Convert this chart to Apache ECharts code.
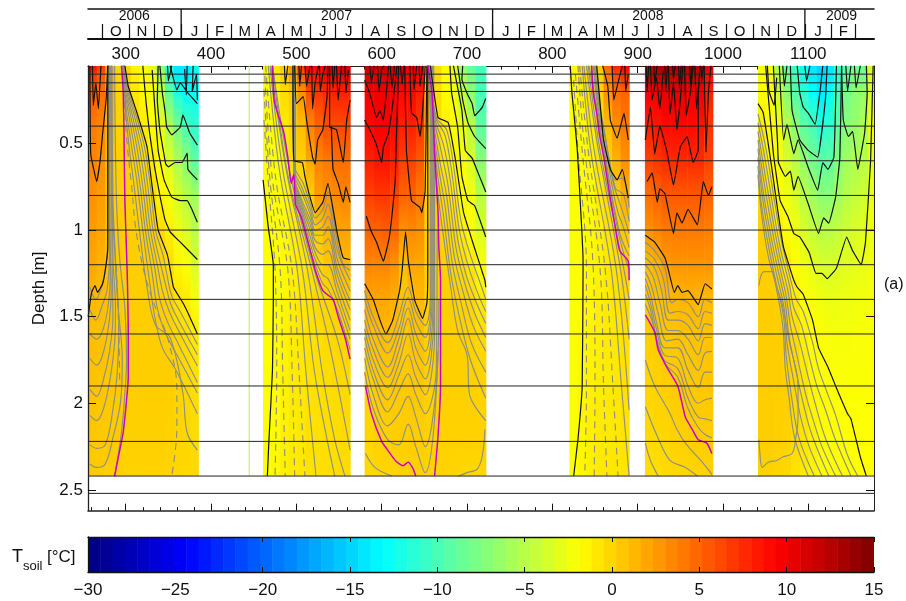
<!DOCTYPE html>
<html><head><meta charset="utf-8">
<script src="https://cdn.jsdelivr.net/npm/echarts@6/dist/echarts.min.js"></script>
<style>html,body{margin:0;padding:0;background:#fff}#c{width:906px;height:601px}</style></head>
<body><div id="c"></div>
<script>
var dayMin=255.8, dayMax=1177, depthMin=0.053, depthMax=2.62;
var dayTicks=[300,400,500,600,700,800,900,1000,1100];
var dayMinor=[260,280,320,340,360,380,420,440,460,480,520,540,560,580,620,640,660,680,720,740,760,780,820,840,860,880,920,940,960,980,1020,1040,1060,1080,1120,1140,1160];
var depthTicks=[0.5,1,1.5,2,2.5];
var sensorDepths=[0.1,0.15,0.2,0.4,0.6,0.8,1,1.2,1.4,1.6,1.9,2.22,2.42,2.52];
var monthBounds=[273,304,334,365,396,424,455,485,516,546,577,608,638,669,699,730,761,790,821,851,882,912,943,974,1004,1035,1065,1096,1127,1155];
var monthLetters=['O','N','D','J','F','M','A','M','J','J','A','S','O','N','D','J','F','M','A','M','J','J','A','S','O','N','D','J','F'];
var yearBounds=[365,730,1096];
var yearLabels=[['2006',310],['2007',547],['2008',912],['2009',1139]];
var colorbarTicks=[-30,-25,-20,-15,-10,-5,0,5,10,15];
var gapLine=[[444.7,0.053],[444.7,2.42]];

var depthLevels=[0.053,0.1,0.2,0.4,0.6,0.8,1.0,1.2,1.4,1.6,1.9,2.2,2.42];

var seg1Edges=[256,266,276,286,296,306,316,326,336,346,356,366,376,385];
var seg1Field=[
[9,7,5.5,4,3.5,3,2.5,2,1.2,1,.8,.6,.4],
[7,5.5,4.5,3.5,3,2.5,2,1.5,1.1,.9,.7,.5,.4],
[2,2,1.8,1.5,1.2,1,1,1,.8,.7,.6,.5,.3],
[0,0,.1,.1,.2,.3,.4,.5,.5,.5,.5,.4,.3],
[0,0,.1,.2,.2,.2,.3,.3,.3,.3,.3,.2,.1],
[-1.5,-1.2,-.8,-.3,0,.2,.3,.3,.3,.3,.3,.2,.1],
[-2,-1.9,-1.7,-1,-.3,0,.2,.3,.3,.3,.3,.2,.1],
[-3,-2.5,-2.3,-1.9,-1,-.3,.1,.3,.3,.3,.3,.2,.1],
[-7,-6,-5,-3,-2,-1.5,-.3,.1,.3,.3,.3,.2,.1],
[-12,-11,-9,-5.5,-3.5,-2.2,-1.2,-.3,.1,.3,.3,.1,0],
[-14,-14,-12,-8,-5.5,-3.8,-2.5,-1.5,-.6,-.1,.1,0,-.1],
[-14,-14,-13,-10,-7,-5,-3.5,-2,-1,-.4,-.1,-.1,-.2],
[-13,-13,-13,-11,-9,-6,-5,-3.5,-2.2,-1,-.4,-.3,-.2]];

var seg2Edges=[461,471,481,491,501,511,521,531,541,551,563];
var seg2Field=[
[-1.9,-1.9,-2,-2,-2,-2,-2,-2,-2,-2,-2,-1.9,-1.9],
[-.8,-1,-1.4,-1.7,-1.9,-1.9,-1.9,-1.9,-1.9,-1.9,-1.8,-1.7,-1.6],
[.4,.2,-.3,-1,-1.3,-1.6,-1.7,-1.6,-1.5,-1.4,-1.3,-1.2,-1.2],
[3,2,.4,0,-.5,-.9,-1.1,-1.2,-1.1,-1,-1,-1,-1],
[7,5.5,3,1,.1,-.2,-.6,-.8,-.8,-.8,-.8,-.8,-.8],
[10,8.5,6,3.5,2,.3,-.2,-.5,-.6,-.6,-.6,-.6,-.6],
[10,8.5,7,5,3.5,2.5,.5,0,-.2,-.4,-.5,-.5,-.5],
[11,9.5,7.5,6,4,3,1.5,.5,0,-.2,-.4,-.4,-.4],
[11,9.5,8,6,4.5,3.3,2,.8,.3,-.1,-.3,-.4,-.4],
[12,10,8,6,4.5,3.5,2.2,1.2,.5,0,-.2,-.3,-.3]];

var seg3Edges=[580,590,600,610,620,630,640,650,660,670,680,690,700,710,722];
var seg3Field=[
[12.5,11,10,9,8,6.5,5,3.5,2,.9,.1,-.1,-.2],
[12.5,11,10,9.5,8.5,7,5,3.5,2,1,.4,.1,-.1],
[12.5,11,10,9.5,8.5,7,5.3,3.5,2,1.1,.5,.2,0],
[12,10.5,9.5,9,8,6.5,5,3,1.6,1,.55,.3,0],
[11,9.5,9,8,6.5,5,3,1,.6,.5,.4,.3,.1],
[11,9.5,9,8,6.5,5,3.3,2,1,.7,.5,.35,.2],
[11,9.5,8,7,5.5,4,3,2,1.2,.8,.5,.3,.2],
[2,2,1.5,1,.5,.2,.15,.2,.2,.2,.2,.1,.1],
[-.3,-.3,-.4,-.3,-.2,0,.1,.2,.2,.2,.2,.1,.1],
[-2,-2,-1.9,-1.2,-.9,-.4,-.1,.1,.2,.2,.2,.1,.1],
[-3,-3,-2.5,-2,-1.5,-1,-.3,0,.2,.2,.2,.1,0],
[-7,-6,-5,-3,-2.3,-2,-1.2,-.3,.1,.2,.2,.1,-.1],
[-9,-8,-7,-5,-3.5,-2.5,-2,-.8,-.1,.1,.2,.1,-.1],
[-10,-10,-10,-9,-7,-5,-3.5,-2.2,-1,-.3,.1,.1,-.1]];

var seg4Edges=[820,830,840,850,860,870,880,890];
var seg4Field=[
[-1.9,-1.9,-2,-2,-2,-2,-2,-2,-2,-2,-2,-2,-2],
[-.5,-.8,-1.2,-1.7,-1.9,-1.9,-1.9,-1.9,-1.7,-1.7,-1.6,-1.5,-1.5],
[0,-.1,-.5,-1,-1.5,-1.7,-1.6,-1.5,-1.5,-1.4,-1.3,-1.2,-1.2],
[.5,.3,.1,-.3,-.7,-1,-1.3,-1.3,-1.2,-1.2,-1.1,-1,-1],
[5,4,3,1,.1,-.3,-.7,-.9,-1,-1,-1,-.9,-.9],
[8,6,4.5,3,1.5,.3,-.1,-.5,-.7,-.8,-.8,-.8,-.8],
[10,7.5,5,4,3,1.7,.5,.1,-.3,-.5,-.6,-.7,-.7]];

var seg5Edges=[908.5,918,928,938,948,958,968,978,988];
var seg5Field=[
[13,11.5,10,8,6.5,4.5,3,1,.6,.3,0,-.3,-.5],
[13.5,12,10,8.5,7,5,3.5,1.5,.8,.4,.1,-.2,-.4],
[13.5,12,10.5,9,7.5,5.5,4,2.5,1,.6,.3,-.1,-.3],
[13.5,12,10.5,9,7.5,5.5,4,2.8,1.2,.7,.4,.1,-.2],
[13.5,12,10.5,9,7.5,5.5,4,2.8,1.4,.8,.5,.2,-.1],
[13.5,12,10,9,7.5,5.5,4,2.8,1.4,.8,.5,.3,0],
[13,11.5,10,8.5,7.5,5.5,4,2.8,1.2,.8,.6,.3,.1],
[11,9,8,7,6.5,5,3.8,2.8,1.2,.8,.6,.3,.1]];

var seg6Edges=[1041,1050,1060,1070,1080,1090,1100,1110,1120,1130,1140,1150,1160,1170,1177];
var seg6Field=[
[-2,-2,-1.9,-1,-.5,-.1,.2,.3,.3,.3,.3,.3,.1],
[-2.5,-2.5,-2.2,-1.9,-1.5,-.7,-.1,.2,.3,.3,.3,.3,.1],
[-6,-5,-4,-2.5,-2.2,-1.9,-1,-.1,.2,.3,.3,.2,0],
[-9,-8,-7,-5,-3.5,-2.5,-2,-.9,-.1,.1,.2,.1,-.2],
[-11,-10,-9.5,-7,-5,-3.5,-2.5,-1.9,-1,-.3,-.1,-.3,-.6],
[-13,-12,-11,-9,-6.5,-5,-3.5,-2.4,-1.9,-1.3,-.7,-.7,-1],
[-14,-14,-13,-10,-8,-6,-4.5,-3,-2.2,-1.9,-1.5,-1.3,-1.3],
[-15,-15,-14,-11.5,-9,-7,-5,-3.5,-2.5,-2,-1.9,-1.7,-1.7],
[-14,-14,-13,-11,-9,-7,-5,-3.7,-2.7,-2.2,-2,-1.9,-1.9],
[-11,-11,-10,-9,-7.5,-6,-4.5,-3.5,-2.7,-2.3,-2,-1.9,-1.9],
[-9,-9,-8,-7,-6,-5,-4,-3.2,-2.6,-2.3,-2,-1.9,-1.9],
[-8,-8,-7,-6.5,-5.5,-4.5,-3.5,-3,-2.5,-2.2,-2,-1.9,-1.9],
[-8,-8,-6.5,-5.5,-5,-4,-3.2,-2.8,-2.4,-2.2,-2,-1.9,-1.9],
[-3.5,-3.5,-3.5,-3,-3,-2.8,-2.6,-2.5,-2.3,-2.1,-2,-1.9,-1.9]];

var magentaLines=[
[[295,.05],[297,.2],[298,.44],[299,.83],[301,1.13],[302,1.3],[303,1.6],[303,1.85],[301,1.98],[297,2.17],[293,2.27],[287,2.42]],
[[472,.05],[474,.25],[478,.325],[485,.43],[490,.58],[494,.73],[497,.68],[499,.85],[506,.93],[519,1.17],[522,1.23],[531,1.35],[543,1.4],[549,1.5],[557,1.62],[563,1.745]],
[[654,.05],[659,.21],[662,.56],[666,.89],[667,1.1],[669,1.29],[669,1.9],[666,2.19],[662,2.42]],
[[581,1.9],[588,2.06],[600,2.22],[607,2.27],[616,2.33],[625,2.36],[631,2.34],[636,2.37],[640,2.42]],
[[846,.05],[848,.21],[852,.325],[855,.44],[861,.6],[867,.79],[873,.96],[879,1.12],[889,1.18],[890,1.29]],
[[909,1.49],[920,1.59],[924,1.69],[934,1.79],[947,1.9],[952,2],[956,2.08],[964,2.15],[971,2.21],[981,2.23],[987,2.29]]
];

var blackSeg1=[
[[256,1.5],[260,1.36],[264,1.32],[267,1.36],[273,1.31],[277,1.2],[279,1.1],[279,.5],[279,.05]],
[[258,.05],[259,.56],[266,.72],[270,.6],[273,.44],[277,.25],[279,.05]],
[[261,.05],[262,.28],[265,.15],[268,.3],[271,.05]],
[[299,.05],[303,.17],[313,.32],[325,.52],[331,.75],[338,1],[348,1.13],[350,1.17],[356,1.33],[367,1.42],[375,1.5],[384,1.6]],
[[331,.076],[338,.54],[345,.71],[354,.81],[364,.83],[372,.83],[378,.885],[384,.955]],
[[320,.05],[324,.27],[328,.44],[334,.64],[340,.8],[346,.94],[352,1.01],[364,1.07],[384,1.17]],
[[338,.05],[337,.25],[340,.42],[344,.54],[347,.62],[350,.635],[358,.61],[366,.61],[372,.556],[373,.65],[384,.71]],
[[340,.05],[343,.21],[346,.31],[348,.405],[354,.45],[364,.405],[367,.335],[375,.44],[384,.51]],
[[352,.05],[360,.19],[364,.15],[373,.21],[384,.27]],
[[372,.05],[371,.22],[369,.07]],
[[379,.05],[378,.2],[383,.1],[384,.25]],
[[349,.05],[350,.14],[354,.05]]
];
var greySeg1=[
[[287,2.42],[295,2.17],[299,1.94],[301,1.75],[299,1.45],[293,1.17],[289,.8],[287,.05]],
[[258,2.35],[266,2.37],[276,2.35],[285,2.2],[294,1.99],[296,1.75],[291,1.44],[288,1.17],[285,.8],[284,.05]],
[[258,2.24],[266,2.26],[276,2.24],[284,2.07],[290,1.83],[292,1.56],[288,1.2],[284,.8],[283,.05]],
[[258,2.07],[266,2.1],[274,2.03],[282,1.85],[287,1.65],[288,1.45],[285,1.15],[283,.05]],
[[258,1.92],[266,1.96],[273,1.88],[281,1.7],[285,1.5],[284,1.15],[282,.05]],
[[258,1.74],[266,1.78],[273,1.72],[280,1.55],[283,1.35],[282,1.15],[281,.05]],
[[258,1.6],[266,1.63],[273,1.58],[279,1.45],[282,1.25],[281,1.1],[280,.05]],
[[258,1.46],[265,1.52],[272,1.44],[278,1.35],[281,1.15],[280,.05]],
[[258,1.33],[265,1.4],[272,1.32],[277,1.2],[279,1],[279,.05]],
[[298,.05],[302,.17],[311,.32],[322,.52],[329,.75],[335,1],[344,1.15],[348,1.25],[354,1.38],[365,1.48],[384,1.66]],
[[298,.05],[301,.17],[309,.32],[319,.52],[326,.75],[332,1],[340,1.18],[346,1.3],[353,1.43],[365,1.55],[384,1.72]],
[[298,.05],[300,.17],[307,.32],[316,.52],[323,.75],[329,1],[337,1.2],[343,1.35],[351,1.47],[364,1.6],[384,1.785]],
[[298,.05],[299,.17],[305,.32],[313,.52],[320,.75],[326,1],[334,1.22],[340,1.4],[349,1.53],[362,1.66],[384,1.88]],
[[297,.05],[298,.17],[303,.32],[310,.52],[317,.75],[323,1],[331,1.25],[337,1.45],[347,1.6],[360,1.72],[384,1.94]],
[[297,.05],[298,.17],[301,.32],[307,.52],[314,.75],[320,1],[328,1.3],[334,1.5],[343,1.68],[358,1.8],[384,2.06]],
[[297,.05],[300,.32],[304,.52],[310,.75],[316,1],[325,1.33],[335,1.55],[352,1.62],[367,1.94],[372,2.17],[384,2.27]]
];
var dashSeg1=[
[[297,.05],[299,.32],[302,.52],[307,.75],[312,1],[322,1.25],[335,1.45],[349,1.62],[360,1.92],[360,2.14],[354,2.42]],
[[289,1.2],[292,1.6],[293,1.9]]
];

var blackSeg2=[
[[461,.71],[467,.98],[473,1.2],[473,1.4],[472,1.81],[468,2.2],[466,2.42]],
[[496,.05],[497,.6],[507,.61],[510,.69],[516,.81],[522,.9],[531,.84],[537,.73],[548,1.02],[555,1.16],[563,1.17]],
[[498,.05],[500,.27],[508,.23],[512,.365],[519,.58],[522,.62],[525,.48],[531,.42],[536,.23],[537,.05]],
[[539,.05],[539,.405],[547,.42],[555,.61],[559,.365],[563,.25]],
[[541,.4],[543,.65],[549,.73],[555,.84],[558,.75],[563,.84]],
[[510,.05],[512,.17],[516,.05]],
[[518,.05],[519,.3],[522,.15],[526,.05]],
[[547,.05],[549,.25],[553,.05]],
[[557,.05],[558,.21],[561,.08]],
[[527,.05],[528,.2],[531,.1],[534,.05]],
[[542,.05],[543,.18],[545,.05]],
[[503,.05],[504,.17],[506,.05]],
[[486,.05],[487,.16],[490,.05]]
];
var greySeg2=[
[[467,.05],[480,.65],[501,1.23],[511,1.81],[523,2.42]],
[[469,.05],[484,.65],[507,1.23],[521,1.81],[536,2.21],[545,2.42]],
[[470,.05],[488,.65],[513,1.23],[530,1.81],[545,2.21],[557,2.42]],
[[472,.05],[490,.68],[518,1.23],[540,1.69],[563,2.27]],
[[472,.05],[493,.68],[521,1.23],[548,1.63],[563,1.95]],
[[496,.05],[497,.62],[508,.73],[517,.86],[522,.93],[531,.88],[537,.78],[548,1.07],[555,1.2],[563,1.23]],
[[496,.05],[497,.64],[507,.76],[517,.89],[522,.97],[531,.93],[537,.85],[548,1.12],[563,1.29]],
[[497,.05],[497,.66],[507,.79],[517,.92],[522,1],[531,.98],[537,.92],[548,1.17],[563,1.35]],
[[497,.05],[497,.68],[506,.82],[517,.95],[522,1.03],[531,1.03],[537,.98],[548,1.22],[563,1.41]],
[[497,.05],[498,.7],[506,.84],[517,.98],[522,1.06],[531,1.08],[537,1.05],[548,1.26],[563,1.46]],
[[498,.05],[498,.72],[506,.86],[517,1.01],[522,1.1],[531,1.14],[537,1.12],[548,1.31],[563,1.52]],
[[498,.05],[498,.74],[506,.88],[517,1.05],[522,1.13],[531,1.2],[537,1.2],[548,1.36],[563,1.58]],
[[499,.05],[499,.76],[506,.9],[517,1.09],[522,1.17],[531,1.26],[537,1.28],[548,1.41],[563,1.63]],
[[499,.05],[499,.78],[506,.92],[517,1.13],[522,1.2],[531,1.31],[537,1.34],[548,1.46],[563,1.69]]
];
var dashSeg2=[
[[462,.365],[467,.71],[475,1.23],[477,1.81],[475,2.42]],
[[462,.19],[469,.71],[481,1.23],[484,1.81],[487,2.42]],
[[463,.11],[472,.71],[490,1.23],[495,1.81],[498,2.42]],
[[464,.05],[476,.71],[495,1.23],[503,1.81],[510,2.42]]
];

var blackSeg3=[
[[580,1.31],[590,1.4],[598,1.52],[605,1.6],[613,1.52],[621,1.35],[624,1.23],[628,1.01],[631,1.17],[635,1.3],[639,1.41],[648,1.51],[653,1.42],[654,1.23],[654,.05]],
[[582,.92],[588,1.01],[594,1.07],[602,1.18],[609,1.04],[613,.87],[616,.7],[617,.5],[620,.05]],
[[627,.05],[629,.54],[635,.83],[645,.87],[647,.9],[651,.77],[653,.05]],
[[580,.365],[586,.42],[594,.51],[600,.61],[602,.52],[608,.44],[613,.27],[618,.05]],
[[633,.05],[635,.325],[641,.35],[645,.46],[648,.31],[651,.05]],
[[580,.134],[586,.21],[594,.35],[598,.31],[602,.365],[606,.175],[608,.05]],
[[586,.05],[588,.15],[591,.05]],
[[595,.05],[597,.2],[600,.07],[603,.05]],
[[610,.05],[612,.18],[615,.05]],
[[622,.05],[624,.16],[626,.05]],
[[637,.05],[638,.19],[641,.05]],
[[644,.05],[645,.17],[648,.05]],
[[657,.05],[666,.35],[678,.38],[686,.58],[696,.9],[706,1.06],[721,1.29],[722,1.33]],
[[722,1.04],[709,.86],[701,.83],[694,.69],[689,.405],[682,.21],[680,.05]],
[[722,.78],[713,.67],[706,.585],[698,.54],[694,.31],[684,.05]],
[[722,.53],[709,.46],[701,.38],[695,.25],[689,.05]],
[[722,.24],[718,.29],[709,.34],[706,.27],[700,.21],[694,.13],[695,.05]]
];
var greySeg3=[
[[580,1.35],[590,1.5],[607,1.65],[620,1.5],[631,1.33],[640,1.47],[651,1.55],[657,1.4],[657,.05]],
[[580,1.4],[590,1.55],[607,1.71],[620,1.57],[631,1.39],[640,1.53],[651,1.62],[658,1.4],[658,.05]],
[[580,1.46],[590,1.63],[607,1.79],[620,1.63],[631,1.45],[640,1.6],[651,1.7],[659,1.4],[659,.05]],
[[580,1.52],[590,1.69],[607,1.85],[620,1.7],[631,1.51],[640,1.68],[651,1.78],[660,1.45],[660,.05]],
[[580,1.57],[590,1.75],[607,1.91],[620,1.77],[631,1.6],[640,1.76],[651,1.86],[661,1.5],[661,.05]],
[[580,1.62],[590,1.81],[607,1.98],[620,1.84],[631,1.72],[640,1.85],[651,1.95],[662,1.6],[662,.5]],
[[580,1.68],[590,1.86],[607,2.05],[620,1.93],[631,1.83],[640,1.95],[651,2.06],[664,1.8],[665,1]],
[[580,1.74],[590,1.95],[607,2.13],[620,2.06],[631,1.96],[640,2.08],[651,2.25],[664,1.9],[667,1.4]],
[[580,1.82],[590,2.03],[607,2.21],[620,2.24],[631,2.12],[640,2.25],[651,2.4],[660,2.2],[666,1.7]],
[[581,2.29],[592,2.37],[612,2.42]],
[[690,2.42],[700,2.4],[712,2.38],[718,2.3],[721,2.15]],
[[656,.05],[664,.35],[676,.42],[684,.62],[693,.95],[703,1.13],[715,1.3],[722,1.4]],
[[656,.05],[663,.35],[674,.45],[682,.66],[691,1],[701,1.2],[713,1.37],[722,1.47]],
[[656,.05],[662,.35],[672,.5],[680,.7],[689,1.05],[699,1.26],[711,1.42],[722,1.54]],
[[655,.05],[661,.35],[670,.55],[678,.75],[687,1.1],[697,1.3],[709,1.48],[722,1.62]],
[[655,.05],[660,.35],[668,.6],[676,.8],[685,1.15],[695,1.35],[707,1.55],[722,1.7]],
[[655,.05],[659,.35],[667,.65],[674,.85],[683,1.2],[693,1.42],[705,1.65],[722,1.82]],
[[655,.05],[658,.35],[666,.7],[672,.9],[681,1.25],[691,1.5],[704,1.75],[722,1.97]],
[[655,.05],[658,.35],[665,.75],[670,.95],[680,1.3],[689,1.58],[700,1.72],[703,1.95],[722,2.1]]
];

var blackSeg4=[
[[821,.05],[823,.21],[829,.52],[836,1.17],[836,1.23],[835,1.9],[830,2.21],[825,2.42]],
[[852,.05],[856,.27],[860,.48],[868,.65],[876,.71],[882,.65],[889,.815]],
[[859,.05],[865,.17],[868,.365],[876,.47],[880,.4],[884,.325],[889,.48]],
[[870,.05],[872,.25],[877,.15],[882,.05]],
[[885,.05],[886,.2],[889,.1]]
];
var greySeg4=[
[[835,.05],[845,.54],[869,1.23],[881,1.9],[890,2.42]],
[[837,.05],[849,.54],[875,1.23],[890,2.04]],
[[840,.05],[852,.48],[880,1.23],[890,1.63]],
[[842,.05],[856,.54],[884,1.23],[890,1.4]],
[[843,.05],[860,.54],[878,1.03],[890,1.23]],
[[846,.05],[849,.21],[854,.33],[857,.44],[863,.6],[869,.78],[875,.93],[881,1.05],[890,1.15]],
[[848,.05],[851,.21],[855,.33],[859,.44],[865,.6],[871,.77],[877,.9],[883,.98],[890,1.1]],
[[849,.05],[852,.21],[857,.33],[861,.44],[866,.58],[872,.74],[878,.83],[884,.92],[890,1.02]],
[[850,.05],[853,.21],[858,.35],[862,.46],[867,.6],[874,.76],[880,.78],[884,.8],[890,.95]],
[[851,.05],[855,.25],[859,.45],[866,.62],[874,.71],[882,.7],[890,.87]]
];
var dashSeg4=[
[[825,.134],[830,.54],[840,1.23],[840,1.9],[838,2.42]],
[[827,.1],[835,.54],[848,1.23],[850,1.9],[849,2.42]],
[[830,.05],[838,.54],[856,1.23],[860,1.9],[864,2.42]],
[[832,.05],[842,.54],[862,1.23],[871,1.9],[877,2.42]]
];

var blackSeg5=[
[[909,1.03],[920,1.07],[932,1.16],[936,1.23],[943,1.36],[947,1.32],[952,1.36],[959,1.35],[971,1.43],[979,1.31],[987,1.34]],
[[911,.72],[917,.67],[923,.84],[926,.76],[932,.79],[942,1.02],[946,.9],[952,.96],[959,.88],[970,.97],[977,.72],[983,.8],[987,.75]],
[[909,.48],[915,.29],[920,.56],[926,.4],[934,.54],[942,.74],[950,.52],[958,.46],[965,.61],[971,.54],[971,.21],[973,.05]],
[[915,.05],[917,.25],[922,.12],[926,.3],[930,.08]],
[[936,.05],[938,.33],[942,.15],[946,.42],[950,.25],[953,.05]],
[[955,.05],[957,.34],[962,.2],[965,.05]],
[[967,.05],[969,.3],[972,.15]],
[[978,.05],[980,.55],[983,.2],[986,.05]],
[[910,.05],[911,.2],[913,.05]],
[[932,.05],[933,.2],[935,.05]],
[[948,.05],[949,.18],[951,.05]],
[[919,.05],[920,.15],[923,.05]],
[[941,.05],[942,.13],[944,.05]],
[[961,.05],[962,.16],[964,.05]],
[[974,.05],[975,.14],[977,.05]]
];
var greySeg5=[
[[909,1.07],[920,1.12],[932,1.22],[940,1.42],[947,1.4],[959,1.42],[971,1.5],[979,1.4],[987,1.42]],
[[909,1.12],[920,1.17],[930,1.28],[938,1.48],[947,1.47],[959,1.49],[971,1.57],[979,1.47],[987,1.48]],
[[909,1.16],[920,1.22],[928,1.35],[936,1.52],[947,1.52],[959,1.55],[971,1.64],[979,1.54],[987,1.55]],
[[909,1.2],[918,1.27],[926,1.42],[936,1.58],[947,1.58],[959,1.63],[971,1.72],[979,1.62],[987,1.62]],
[[909,1.24],[916,1.32],[924,1.48],[934,1.64],[947,1.63],[959,1.72],[971,1.81],[979,1.71],[987,1.7]],
[[909,1.28],[915,1.37],[922,1.53],[932,1.68],[947,1.68],[959,1.81],[971,1.91],[979,1.82],[987,1.82]],
[[909,1.32],[915,1.42],[921,1.55],[931,1.72],[947,1.74],[959,1.9],[971,2],[979,1.98],[987,1.97]],
[[909,1.37],[915,1.46],[921,1.6],[931,1.75],[947,1.8],[959,1.97],[971,2.08],[979,2.09],[987,2.1]],
[[909,1.43],[918,1.54],[923,1.65],[932,1.77],[947,1.85],[959,2.03],[971,2.14],[979,2.18],[987,2.2]],
[[909,1.75],[920,1.9],[938,2.06],[946,2.15],[956,2.23],[974,2.33],[987,2.41]],
[[909,2.02],[923,2.19],[938,2.33],[956,2.37],[970,2.42]],
[[909,2.23],[915,2.33],[924,2.42]]
];

var blackSeg6=[
[[1041,.27],[1047,.32],[1056,.6],[1064,.88],[1071,1.1],[1083,1.29],[1087,1.33],[1094,1.37],[1105,1.52],[1112,1.68],[1123,1.79],[1132,1.9],[1146,2.06],[1150,2.09],[1161,2.31],[1168,2.42]],
[[1050,.05],[1059,.555],[1067,.83],[1076,.92],[1083,1.02],[1090,1.04],[1101,1.13],[1109,1.25],[1116,1.25],[1122,1.28],[1133,1.22],[1145,1.04],[1152,1.12],[1162,1.2],[1167,1.07],[1173,.6],[1176,.05]],
[[1059,.05],[1064,.5],[1065,.61],[1073,.69],[1079,.66],[1083,.77],[1088,.69],[1100,.85],[1112,1.02],[1118,.93],[1124,.96],[1132,.81],[1137,.58],[1139,.05]],
[[1066,.05],[1071,.48],[1075,.39],[1083,.56],[1088,.48],[1100,.64],[1111,.77],[1117,.61],[1123,.65],[1130,.58],[1133,.05]],
[[1079,.05],[1081,.31],[1090,.48],[1100,.54],[1111,.58],[1120,.25],[1122,.05]],
[[1087,.05],[1090,.21],[1094,.29],[1100,.325],[1108,.39],[1114,.19],[1117,.05]],
[[1139,.05],[1141,.365],[1147,.46],[1152,.43],[1158,.65],[1166,.44],[1169,.21],[1168,.05]],
[[1052,.05],[1054,.2],[1060,.28],[1063,.12]],
[[1070,.05],[1072,.17],[1075,.05]],
[[1096,.05],[1098,.14],[1102,.05]],
[[1144,.05],[1146,.2],[1150,.05]],
[[1154,.05],[1156,.18],[1161,.05]]
];
var greySeg6=[
[[1041,.33],[1050,.52],[1060,.82],[1068,1.05],[1080,1.3],[1086,1.4],[1094,1.47],[1105,1.65],[1112,1.8],[1123,1.95],[1132,2.07],[1146,2.3],[1158,2.42]],
[[1041,.38],[1049,.58],[1059,.88],[1067,1.1],[1078,1.32],[1083,1.45],[1092,1.55],[1102,1.75],[1110,1.9],[1121,2.05],[1131,2.2],[1150,2.42]],
[[1041,.43],[1048,.64],[1058,.93],[1066,1.14],[1076,1.35],[1081,1.5],[1090,1.65],[1100,1.85],[1108,2],[1120,2.2],[1140,2.42]],
[[1041,.48],[1047,.69],[1057,.98],[1065,1.18],[1074,1.38],[1079,1.55],[1087,1.73],[1097,1.95],[1106,2.1],[1116,2.25],[1132,2.42]],
[[1041,.53],[1046,.74],[1056,1.03],[1064,1.22],[1073,1.42],[1077,1.6],[1085,1.8],[1095,2.02],[1104,2.18],[1124,2.42]],
[[1041,.58],[1046,.8],[1055,1.07],[1063,1.26],[1072,1.46],[1075,1.65],[1082,1.85],[1092,2.1],[1101,2.25],[1116,2.42]],
[[1041,.63],[1045,.85],[1054,1.11],[1062,1.3],[1071,1.5],[1074,1.72],[1080,1.95],[1089,2.2],[1107,2.42]],
[[1041,.68],[1045,.9],[1053,1.15],[1061,1.3],[1070,1.55],[1073,1.8],[1077,1.95],[1084,2.2],[1100,2.42]],
[[1042,1.32],[1048,1.24],[1057,1.24],[1063,1.33],[1069,1.42],[1078,1.65],[1088,1.9],[1088,2.08],[1085,2.21],[1081,2.29],[1070,2.31],[1063,2.33],[1053,2.34],[1046,2.37],[1043,2.27],[1042,2.21]]
];

// ---- rendering
function jet(T){
  var x=(T+30)/45; x=Math.max(0,Math.min(1,x));
  function c(v){return Math.round(255*Math.max(0,Math.min(1,v)));}
  return 'rgb('+c(Math.min(4*x-1.5,-4*x+4.5))+','+c(Math.min(4*x-.5,-4*x+3.5))+','+c(Math.min(4*x+.5,-4*x+2.5))+')';
}
function fieldSeries(edges,field){
  var data=field.map(function(col,i){return [edges[i],edges[i+1]].concat(col);});
  return {type:'custom',xAxisIndex:0,yAxisIndex:0,z:1,silent:true,animation:false,clip:true,
    encode:{x:[0,1]},data:data,
    renderItem:function(p,api){
      var stops=depthLevels.map(function(d,k){
        return {offset:(d-depthLevels[0])/(depthLevels[depthLevels.length-1]-depthLevels[0]),color:jet(api.value(2+k))};
      });
      var a=api.coord([api.value(0),depthLevels[0]]);
      var b=api.coord([api.value(1),depthLevels[depthLevels.length-1]]);
      return {type:'rect',shape:{x:a[0],y:a[1],width:b[0]-a[0]+.6,height:b[1]-a[1]},
        style:{fill:new echarts.graphic.LinearGradient(0,0,0,1,stops)}};
    }};
}
function lineSeries(pts,color,width,dash,z,smooth){
  return {type:'line',xAxisIndex:0,yAxisIndex:0,data:pts,showSymbol:false,silent:true,animation:false,z:z,smooth:smooth||false,
    lineStyle:{color:color,width:width,type:dash||'solid'},clip:true};
}
var greyLine='#8f8f80';
var series=[];
[[seg1Edges,seg1Field],[seg2Edges,seg2Field],[seg3Edges,seg3Field],[seg4Edges,seg4Field],[seg5Edges,seg5Field],[seg6Edges,seg6Field]]
 .forEach(function(s){series.push(fieldSeries(s[0],s[1]));});
[greySeg1,greySeg2,greySeg3,greySeg4,greySeg5,greySeg6].forEach(function(g){
  g.forEach(function(p){series.push(lineSeries(p,greyLine,1.15,null,2,0.35));});});
[dashSeg1,dashSeg2,dashSeg4].forEach(function(g){
  g.forEach(function(p){series.push(lineSeries(p,greyLine,1.15,[7,5],2,0.35));});});
[blackSeg1,blackSeg2,blackSeg3,blackSeg4,blackSeg5,blackSeg6].forEach(function(g){
  g.forEach(function(p){series.push(lineSeries(p,'#111',1.2,null,3,0.1));});});
magentaLines.forEach(function(p){series.push(lineSeries(p,'#cc00cc',1.5,null,4,0.2));});
series.push(lineSeries(gapLine,'#c4ec50',1,null,1));
sensorDepths.forEach(function(d){series.push(lineSeries([[dayMin,d],[dayMax,d]],'#222',1,null,5));});

// month / year band
var monthMid=monthLetters.map(function(m,i){return {name:m,value:[(monthBounds[i]+monthBounds[i+1])/2,.25]};});
var yearMid=yearLabels.map(function(y){return {name:y[0],value:[y[1],.76]};});
var hiddenDot={color:'rgba(0,0,0,0)',opacity:1};
series.push({type:'scatter',xAxisIndex:4,yAxisIndex:2,symbolSize:1,itemStyle:hiddenDot,silent:true,animation:false,data:monthMid,
  label:{show:true,position:'inside',formatter:'{b}',fontFamily:'Liberation Sans',fontSize:15,color:'#111'}});
series.push({type:'scatter',xAxisIndex:4,yAxisIndex:2,symbolSize:1,itemStyle:hiddenDot,silent:true,animation:false,data:yearMid,
  label:{show:true,position:'inside',formatter:'{b}',fontFamily:'Liberation Sans',fontSize:14,color:'#111'}});
yearBounds.forEach(function(b){series.push({type:'line',xAxisIndex:4,yAxisIndex:2,data:[[b,0],[b,1]],showSymbol:false,silent:true,animation:false,
  lineStyle:{color:'#111',width:1.3}});});

// colour bar
var cbCells=[];for(var i=0;i<64;i++){cbCells.push([-30+i*45/64,-30+(i+1)*45/64,-30+(i+.5)*45/64]);}
series.push({type:'custom',xAxisIndex:6,yAxisIndex:3,silent:true,animation:false,z:1,encode:{x:[0,1]},data:cbCells,
  renderItem:function(p,api){
    var a=api.coord([api.value(0),1]),b=api.coord([api.value(1),0]);
    return {type:'rect',shape:{x:a[0],y:a[1],width:Math.min(b[0]-a[0]+.5,874-a[0]),height:b[1]-a[1]},style:{fill:jet(api.value(2))}};
  }});

var axFont={fontFamily:'Liberation Sans',fontSize:17,color:'#111'};
var option={
  animation:false,backgroundColor:'#fff',
  grid:[
    {left:88,top:66,width:786,height:444.7,containLabel:false},
    {left:88,top:9,width:786,height:30},
    {left:88,top:537,width:786,height:35}
  ],
  xAxis:[
    {type:'value',gridIndex:0,position:'bottom',min:dayMin,max:dayMax,splitLine:{show:false},axisLabel:{show:false},
     axisLine:{lineStyle:{color:'#222',width:1.6},onZero:false},axisTick:{inside:true,length:7,customValues:dayTicks,lineStyle:{color:'#111'}},z:0},
    {type:'value',gridIndex:0,position:'bottom',min:dayMin,max:dayMax,splitLine:{show:false},axisLabel:{show:false},
     axisLine:{show:false},axisTick:{inside:true,length:3.5,customValues:dayMinor,lineStyle:{color:'#111'}},z:0},
    {type:'value',gridIndex:0,position:'top',min:dayMin,max:dayMax,splitLine:{show:false},
     axisLabel:Object.assign({show:true,customValues:dayTicks,margin:3,formatter:function(v){return String(v);}},axFont),
     axisLine:{lineStyle:{color:'#222',width:1},onZero:false},axisTick:{inside:true,length:7,customValues:dayTicks,lineStyle:{color:'#111'}},z:0},
    {type:'value',gridIndex:0,position:'top',min:dayMin,max:dayMax,splitLine:{show:false},axisLabel:{show:false},
     axisLine:{show:false},axisTick:{inside:true,length:3.5,customValues:dayMinor,lineStyle:{color:'#111'}},z:0},
    {type:'value',gridIndex:1,position:'bottom',min:dayMin,max:dayMax,splitLine:{show:false},axisLabel:{show:false},
     axisLine:{lineStyle:{color:'#111',width:2},onZero:false},axisTick:{inside:true,length:15,customValues:monthBounds,lineStyle:{color:'#111',width:1.2}}},
    {type:'value',gridIndex:1,position:'top',min:dayMin,max:dayMax,splitLine:{show:false},axisLabel:{show:false},
     axisLine:{lineStyle:{color:'#111',width:1.5},onZero:false},axisTick:{show:false}},
    {type:'value',gridIndex:2,position:'bottom',min:-30,max:15,interval:5,splitLine:{show:false},z:5,
     axisLabel:Object.assign({show:true,margin:10,customValues:colorbarTicks,formatter:function(v){return String(v).replace('-','\u2212');}},axFont),
     axisLine:{lineStyle:{color:'#111',width:1.3},onZero:false},axisTick:{inside:true,length:5,lineStyle:{color:'#111'}}},
    {type:'value',gridIndex:2,position:'top',min:-30,max:15,interval:5,splitLine:{show:false},z:5,axisLabel:{show:false},
     axisLine:{lineStyle:{color:'#111',width:1.3},onZero:false},axisTick:{inside:true,length:5,lineStyle:{color:'#111'}}}
  ],
  yAxis:[
    {type:'value',gridIndex:0,position:'left',inverse:true,min:depthMin,max:depthMax,splitLine:{show:false},z:6,
     name:'Depth [m]',nameLocation:'middle',nameGap:40,nameTextStyle:axFont,
     axisLabel:Object.assign({show:true,customValues:depthTicks,margin:5,padding:[4,0,0,0]},axFont),
     axisLine:{show:true,lineStyle:{color:'#222',width:1.3},onZero:false},axisTick:{show:true,inside:true,length:8,customValues:depthTicks,lineStyle:{color:'#111'}}},
    {type:'value',gridIndex:0,position:'right',inverse:true,min:depthMin,max:depthMax,splitLine:{show:false},z:6,axisLabel:{show:false},
     axisLine:{show:true,lineStyle:{color:'#222',width:1},onZero:false},axisTick:{show:true,inside:true,length:8,customValues:depthTicks,lineStyle:{color:'#111'}}},
    {type:'value',gridIndex:1,min:0,max:1,show:false},
    {type:'value',gridIndex:2,min:0,max:1,splitLine:{show:false},axisLabel:{show:false},axisTick:{show:false},z:5,
     axisLine:{show:true,lineStyle:{color:'#111',width:1.3},onZero:false}}
  ],
  graphic:[
    {type:'text',left:884,top:277,silent:true,style:{text:'(a)',font:'16px "Liberation Sans"',fill:'#111'}},
    {type:'text',left:12,top:548,silent:true,style:{text:'T',font:'18px "Liberation Sans"',fill:'#111'}},
    {type:'text',left:23,top:560,silent:true,style:{text:'soil',font:'13px "Liberation Sans"',fill:'#111'}},
    {type:'text',left:47,top:549,silent:true,style:{text:'[\u00b0C]',font:'17px "Liberation Sans"',fill:'#111'}}
  ],
  series:series
};
echarts.init(document.getElementById('c'),null,{renderer:'canvas'}).setOption(option);
</script></body></html>
